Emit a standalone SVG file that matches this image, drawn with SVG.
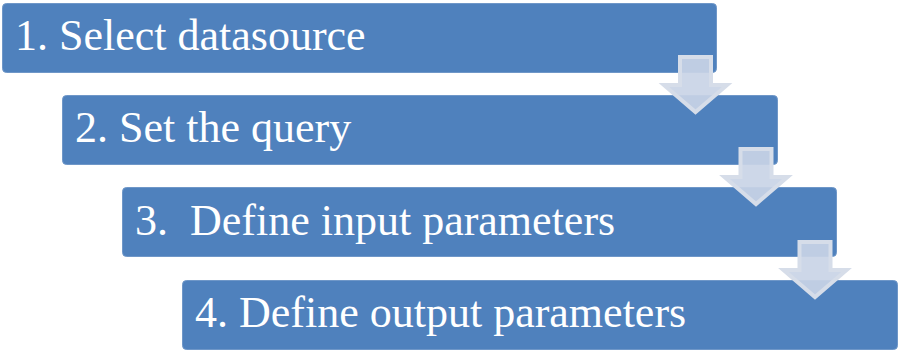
<svg xmlns="http://www.w3.org/2000/svg" xmlns:xlink="http://www.w3.org/1999/xlink" width="899" height="351" viewBox="0 0 899 351">
<style>
.box{fill:#4f81bd;stroke:#6f97c8;stroke-width:1}
.lbl{font-family:"Liberation Serif","Times New Roman",serif;font-size:44px;fill:#ffffff;white-space:pre}
.arr{fill:#c9d4e6;fill-opacity:0.92;stroke:#d6dde9;stroke-width:4;stroke-linejoin:miter}
</style>
<defs>
<path id="down" d="M-15.5,0 H15.5 V28 H31.5 L0,55 L-31.5,28 H-15.5 Z"/>
</defs>
<rect width="899" height="351" fill="#ffffff"/>
<g id="node1"><rect class="box" x="2.5" y="3.5" width="714" height="69" rx="4"/><text class="lbl" x="15" y="50">1. Select datasource</text></g>
<g id="node2"><rect class="box" x="62.5" y="95.5" width="715" height="69" rx="4"/><text class="lbl" x="75" y="142">2. Set the query</text></g>
<g id="node3"><rect class="box" x="122.5" y="187.5" width="714" height="69" rx="4"/><text class="lbl" x="135" y="235" xml:space="preserve">3.  Define input parameters</text></g>
<g id="node4"><rect class="box" x="182.5" y="280.5" width="715" height="69" rx="4"/><text class="lbl" x="195" y="327">4. Define output parameters</text></g>
<g id="connectors">
<use xlink:href="#down" class="arr" transform="translate(695.5,57)"/>
<use xlink:href="#down" class="arr" transform="translate(756,149)"/>
<use xlink:href="#down" class="arr" transform="translate(815,242)"/>
</g>
</svg>
